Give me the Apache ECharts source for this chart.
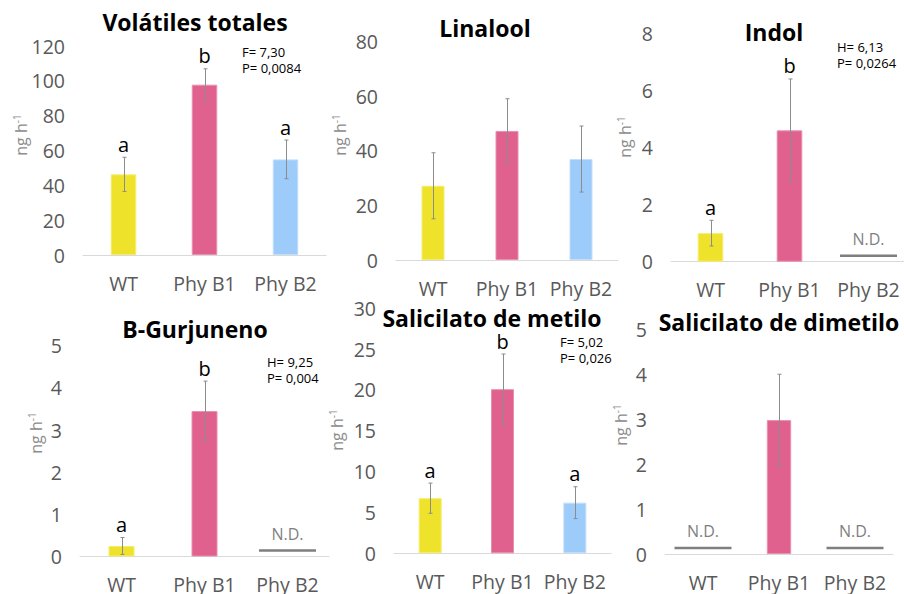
<!DOCTYPE html>
<html>
<head>
<meta charset="utf-8">
<script src="https://cdn.jsdelivr.net/npm/echarts@6/dist/echarts.min.js"></script>
<style>
  html, body { margin: 0; padding: 0; background: #ffffff; }
  #chart { width: 904px; height: 594px; }
</style>
</head>
<body>
<div id="chart"></div>
<script>
// ---- data (ng h-1); null = not detected (N.D.) ----
const categories = ['WT', 'Phy B1', 'Phy B2'];

const panelTitles = ['Volátiles totales', 'Linalool', 'Indol', 'B-Gurjuneno', 'Salicilato de metilo', 'Salicilato de dimetilo'];

const totalMean = [46.3, 97.8, 54.9];
const totalErr = [9.8, 9.1, 11.1];
const totalLetters = ['a', 'b', 'a'];

const linaloolMean = [27.2, 47.3, 37.0];
const linaloolErr = [12.1, 11.8, 12.1];
const linaloolLetters = ['', '', ''];

const indolMean = [1.0, 4.6, null];
const indolErr = [0.45, 1.8, null];
const indolLetters = ['a', 'b', ''];

const gurjunenoMean = [0.25, 3.45, null];
const gurjunenoErr = [0.2, 0.71, null];
const gurjunenoLetters = ['a', 'b', ''];

const metiloMean = [6.75, 20.1, 6.2];
const metiloErr = [1.85, 4.3, 1.95];
const metiloLetters = ['a', 'b', 'a'];

const dimetiloMean = [null, 2.98, null];
const dimetiloErr = [null, 1.02, null];
const dimetiloLetters = ['', '', ''];

const yMax = [120, 80, 8, 5, 30, 5];
const yStep = [20, 20, 2, 1, 5, 1];

const statLines = [
  ['F= 7,30', 'P= 0,0084'],
  null,
  ['H= 6,13', 'P= 0,0264'],
  ['H= 9,25', 'P= 0,004'],
  ['F= 5,02', 'P= 0,026'],
  null
];

const ndText = 'N.D.';

// ---- layout and style ----
const FONT = "'Open Sans', 'Noto Sans', sans-serif";
const barColors = ['#EFE22A', '#E0608E', '#9DCBFA'];
const barBorders = ['#F5EC6E', '#EA8FB0', '#C2DEFB'];

const grids = [
  { left: 83,  top: 46,    width: 243, height: 209 },
  { left: 396, top: 41.7,  width: 222, height: 218.3 },
  { left: 671, top: 33.3,  width: 237, height: 228.4 },
  { left: 80,  top: 345.7, width: 249, height: 210.8 },
  { left: 394, top: 308.3, width: 217, height: 245 },
  { left: 665, top: 329.3, width: 228, height: 224.7 }
];
const barWidths = [25.5, 23, 25.6, 26, 23, 24.4];
const titlePos = [[195, 22], [485, 28], [774, 32], [195, 329], [492, 318], [779, 322]];
const yNamePos = [[21, 135], [340, 135], [625, 137], [36, 433], [337, 430], [621, 425]];
const statPos = [[242, 52], null, [837, 47], [267, 362], [560, 342], null];

const panels = [
  { mean: totalMean, err: totalErr, letters: totalLetters },
  { mean: linaloolMean, err: linaloolErr, letters: linaloolLetters },
  { mean: indolMean, err: indolErr, letters: indolLetters },
  { mean: gurjunenoMean, err: gurjunenoErr, letters: gurjunenoLetters },
  { mean: metiloMean, err: metiloErr, letters: metiloLetters },
  { mean: dimetiloMean, err: dimetiloErr, letters: dimetiloLetters }
];

const chart = echarts.init(document.getElementById('chart'), null, { renderer: 'svg' });

const grid = [], xAxis = [], yAxis = [], series = [], graphic = [];

panels.forEach((p, k) => {
  grid.push(Object.assign({ containLabel: false, outerBoundsMode: 'none' }, grids[k]));

  xAxis.push({
    type: 'category', gridIndex: k, data: categories,
    axisLine: { show: true, lineStyle: { color: '#D9D9D9', width: 1 } },
    axisTick: { show: false },
    axisLabel: { color: '#595959', fontSize: 19.5, fontFamily: FONT, margin: 18, interval: 0 },
    splitLine: { show: false }
  });

  yAxis.push({
    type: 'value', gridIndex: k, min: 0, max: yMax[k], interval: yStep[k], z: 20,
    axisLine: { show: false }, axisTick: { show: false },
    splitLine: { show: false },
    axisLabel: {
      color: '#595959', fontSize: 19.5, fontFamily: FONT, margin: 18,
      showMinLabel: true, showMaxLabel: true, hideOverlap: false
    }
  });

  // bars
  series.push({
    type: 'bar', xAxisIndex: k, yAxisIndex: k, barWidth: barWidths[k],
    silent: true, animation: false,
    data: p.mean.map((v, i) => v == null ? '-' : {
      value: v,
      itemStyle: { color: barColors[i], borderColor: barBorders[i], borderWidth: 1 }
    })
  });

  // error bars (mean ± error)
  const errData = [];
  p.mean.forEach((v, i) => { if (v != null) errData.push([i, v - p.err[i], v + p.err[i]]); });
  series.push({
    type: 'custom', xAxisIndex: k, yAxisIndex: k, z: 5, silent: true, animation: false,
    data: errData,
    encode: { x: 0, y: [1, 2] },
    renderItem: (params, api) => {
      const lo = api.coord([api.value(0), api.value(1)]);
      const hi = api.coord([api.value(0), api.value(2)]);
      const x = Math.round(lo[0]) + 0.5;
      const st = { stroke: '#8C8C8C', lineWidth: 1 };
      return {
        type: 'group', children: [
          { type: 'line', shape: { x1: x, y1: lo[1], x2: x, y2: hi[1] }, style: st },
          { type: 'line', shape: { x1: x - 2, y1: hi[1], x2: x + 2, y2: hi[1] }, style: st },
          { type: 'line', shape: { x1: x - 2, y1: lo[1], x2: x + 2, y2: lo[1] }, style: st }
        ]
      };
    }
  });

  // significance letters above the error bars
  const letterData = [];
  p.mean.forEach((v, i) => { if (v != null && p.letters[i]) letterData.push([i, v + p.err[i], p.letters[i]]); });
  if (letterData.length) {
    series.push({
      type: 'custom', xAxisIndex: k, yAxisIndex: k, z: 6, silent: true, animation: false,
      data: letterData,
      encode: { x: 0, y: 1 },
      renderItem: (params, api) => {
        const pt = api.coord([api.value(0), api.value(1)]);
        return {
          type: 'text',
          style: {
            x: pt[0], y: pt[1] - 3, text: letterData[params.dataIndex][2],
            fill: '#000000', font: '20px ' + FONT, textAlign: 'center', textVerticalAlign: 'bottom'
          }
        };
      }
    });
  }

  // not-detected markers
  const ndData = [];
  p.mean.forEach((v, i) => { if (v == null) ndData.push([i, 0]); });
  if (ndData.length) {
    series.push({
      type: 'custom', xAxisIndex: k, yAxisIndex: k, z: 6, silent: true, animation: false,
      data: ndData,
      encode: { x: 0, y: 1 },
      renderItem: (params, api) => {
        const pt = api.coord([api.value(0), api.value(1)]);
        const y = pt[1] - 6;
        return {
          type: 'group', children: [
            { type: 'line', shape: { x1: pt[0] - 28.5, y1: y, x2: pt[0] + 28.5, y2: y },
              style: { stroke: '#7F7F7F', lineWidth: 2.5 } },
            { type: 'text', style: { x: pt[0], y: y - 17, text: ndText, fill: '#7F7F7F',
              font: '16px ' + FONT, textAlign: 'center', textVerticalAlign: 'middle' } }
          ]
        };
      }
    });
  }

  // panel title
  graphic.push({
    type: 'text', x: titlePos[k][0], y: titlePos[k][1], silent: true, z: 0,
    style: {
      text: panelTitles[k], fill: '#000000', font: 'bold 23px ' + FONT,
      textAlign: 'center', textVerticalAlign: 'middle'
    }
  });

  // y-axis unit
  graphic.push({
    type: 'text', x: yNamePos[k][0], y: yNamePos[k][1], rotation: Math.PI / 2, silent: true,
    style: {
      text: '{a|ng h}{b|-1}', textAlign: 'center', textVerticalAlign: 'middle',
      rich: {
        a: { fontFamily: FONT, fontSize: 16, fill: '#8C8C8C', lineHeight: 18 },
        b: { fontFamily: FONT, fontSize: 10, fill: '#8C8C8C', verticalAlign: 'top', lineHeight: 18 }
      }
    }
  });

  // test statistics
  if (statLines[k]) {
    statLines[k].forEach((s, j) => {
      graphic.push({
        type: 'text', x: statPos[k][0], y: statPos[k][1] + j * 16, silent: true,
        style: { text: s, fill: '#000000', font: '13px ' + FONT, textAlign: 'left', textVerticalAlign: 'middle' }
      });
    });
  }
});

chart.setOption({
  animation: false,
  backgroundColor: '#ffffff',
  textStyle: { fontFamily: FONT },
  grid, xAxis, yAxis, series, graphic
});
</script>
</body>
</html>
